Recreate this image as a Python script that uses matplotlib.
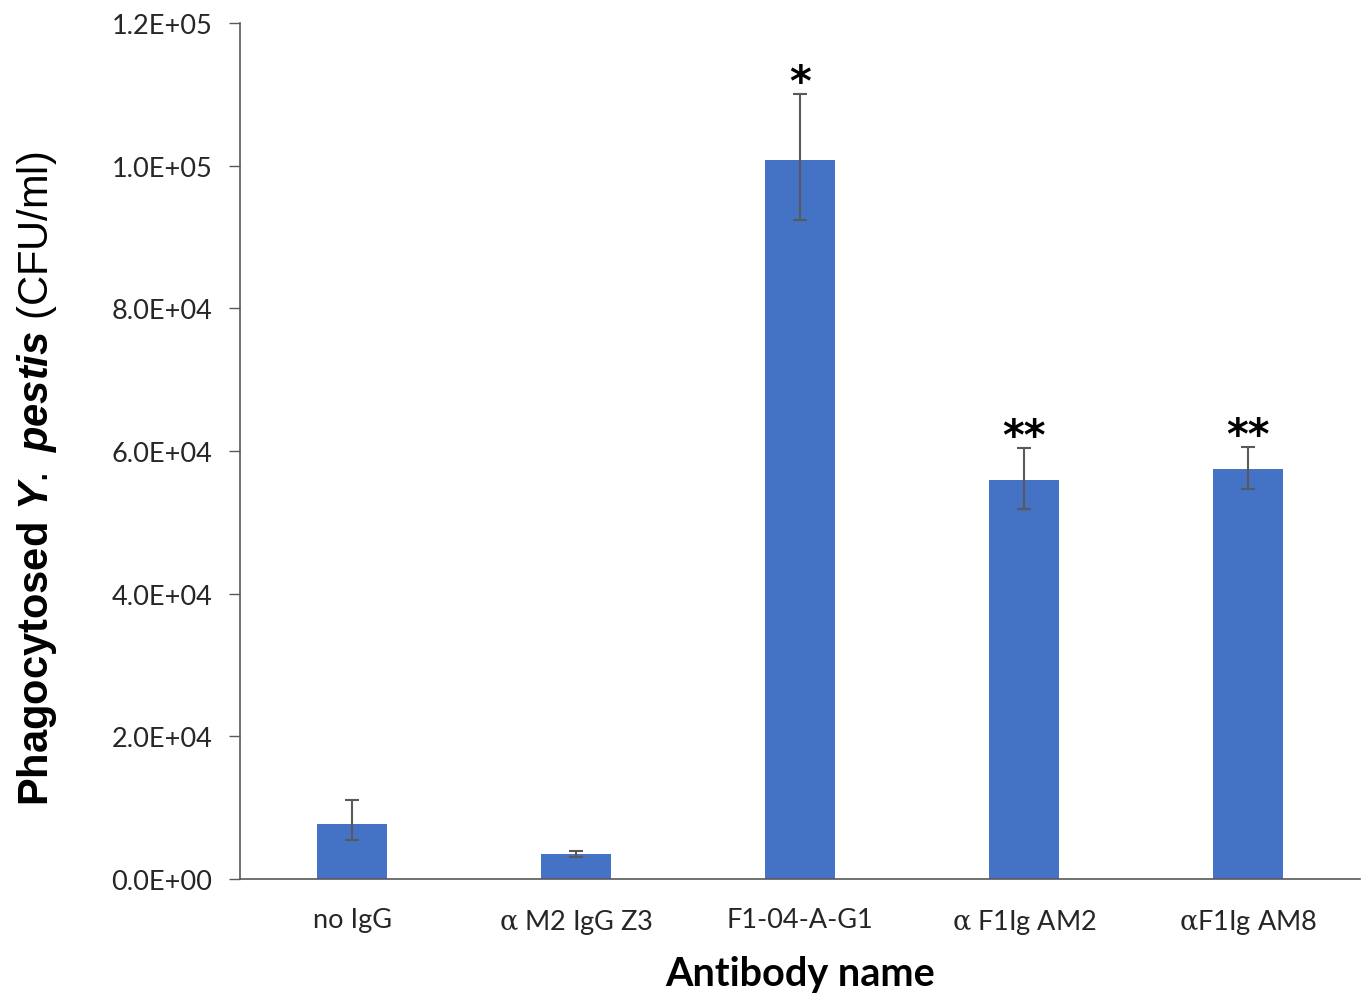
import matplotlib

matplotlib.use("Agg")
import matplotlib.pyplot as plt

antibodies = ["no IgG", r"$\mathsf{\alpha}$ M2 IgG Z3", "F1-04-A-G1",
              r"$\mathsf{\alpha}$ F1Ig AM2", r"$\mathsf{\alpha}$F1Ig AM8"]
cfu = [7660, 3460, 100800, 56000, 57460]
err_low = [2200, 380, 8400, 4080, 2840]
err_high = [3360, 420, 9280, 4460, 3070]
stars = ["", "", "*", "**", "**"]
yticks = [0, 20000, 40000, 60000, 80000, 100000, 120000]

plt.rcParams["mathtext.fontset"] = "custom"
plt.rcParams["mathtext.sf"] = "DejaVu Serif"
plt.rcParams["mathtext.bf"] = "Liberation Sans:bold"
plt.rcParams["mathtext.it"] = "Liberation Sans:bold:italic"
plt.rcParams["mathtext.rm"] = "Liberation Sans"

fig = plt.figure(figsize=(13.66, 9.95), dpi=100)
ax = fig.add_axes([0.1757, 0.1156, 0.8199, 0.8603])

x = range(len(antibodies))
ax.bar(x, cfu, width=0.31, color="#4472C4")
ax.errorbar(x, cfu, yerr=[err_low, err_high], fmt="none", ecolor="#595959",
            elinewidth=1.5, capsize=5, capthick=1.5)
for i, s in enumerate(stars):
    if s:
        ax.text(i, cfu[i] + err_high[i] + 1500, s, ha="center", va="center",
                fontsize=30, fontweight="bold", family="DejaVu Sans")

ax.set_xlim(-0.5, 4.5)
ax.set_ylim(0, 120000)
ax.set_yticks(yticks)
ax.set_yticklabels([f"{v / 10 ** (len(str(v)) - 1) if v else 0:.1f}E+{max(len(str(v)) - 1, 0):02d}" for v in yticks])
ax.set_xticks(list(x))
ax.set_xticklabels(antibodies)
ax.tick_params(axis="y", direction="out", length=8, width=1, color="#595959",
               pad=12, labelsize=19.5)
ax.tick_params(axis="x", length=0, pad=20, labelsize=19.5)
for lab in ax.get_xticklabels() + ax.get_yticklabels():
    lab.set_family("Lato")
    lab.set_color("#262626")

for side in ["top", "right"]:
    ax.spines[side].set_visible(False)
for side in ["left", "bottom"]:
    ax.spines[side].set_color("#595959")
    ax.spines[side].set_linewidth(1.2)

ax.set_xlabel("Antibody name", fontsize=28.5, fontweight="bold", family="Lato", labelpad=14)
fig.text(0.027, 0.519, r"$\mathbf{Phagocytosed}$ $\mathit{Y.}$ $\mathit{pestis}$ (CFU/ml)",
         rotation=90, ha="center", va="center", fontsize=30, family="Liberation Sans")

fig.savefig("out.png", dpi=100)
